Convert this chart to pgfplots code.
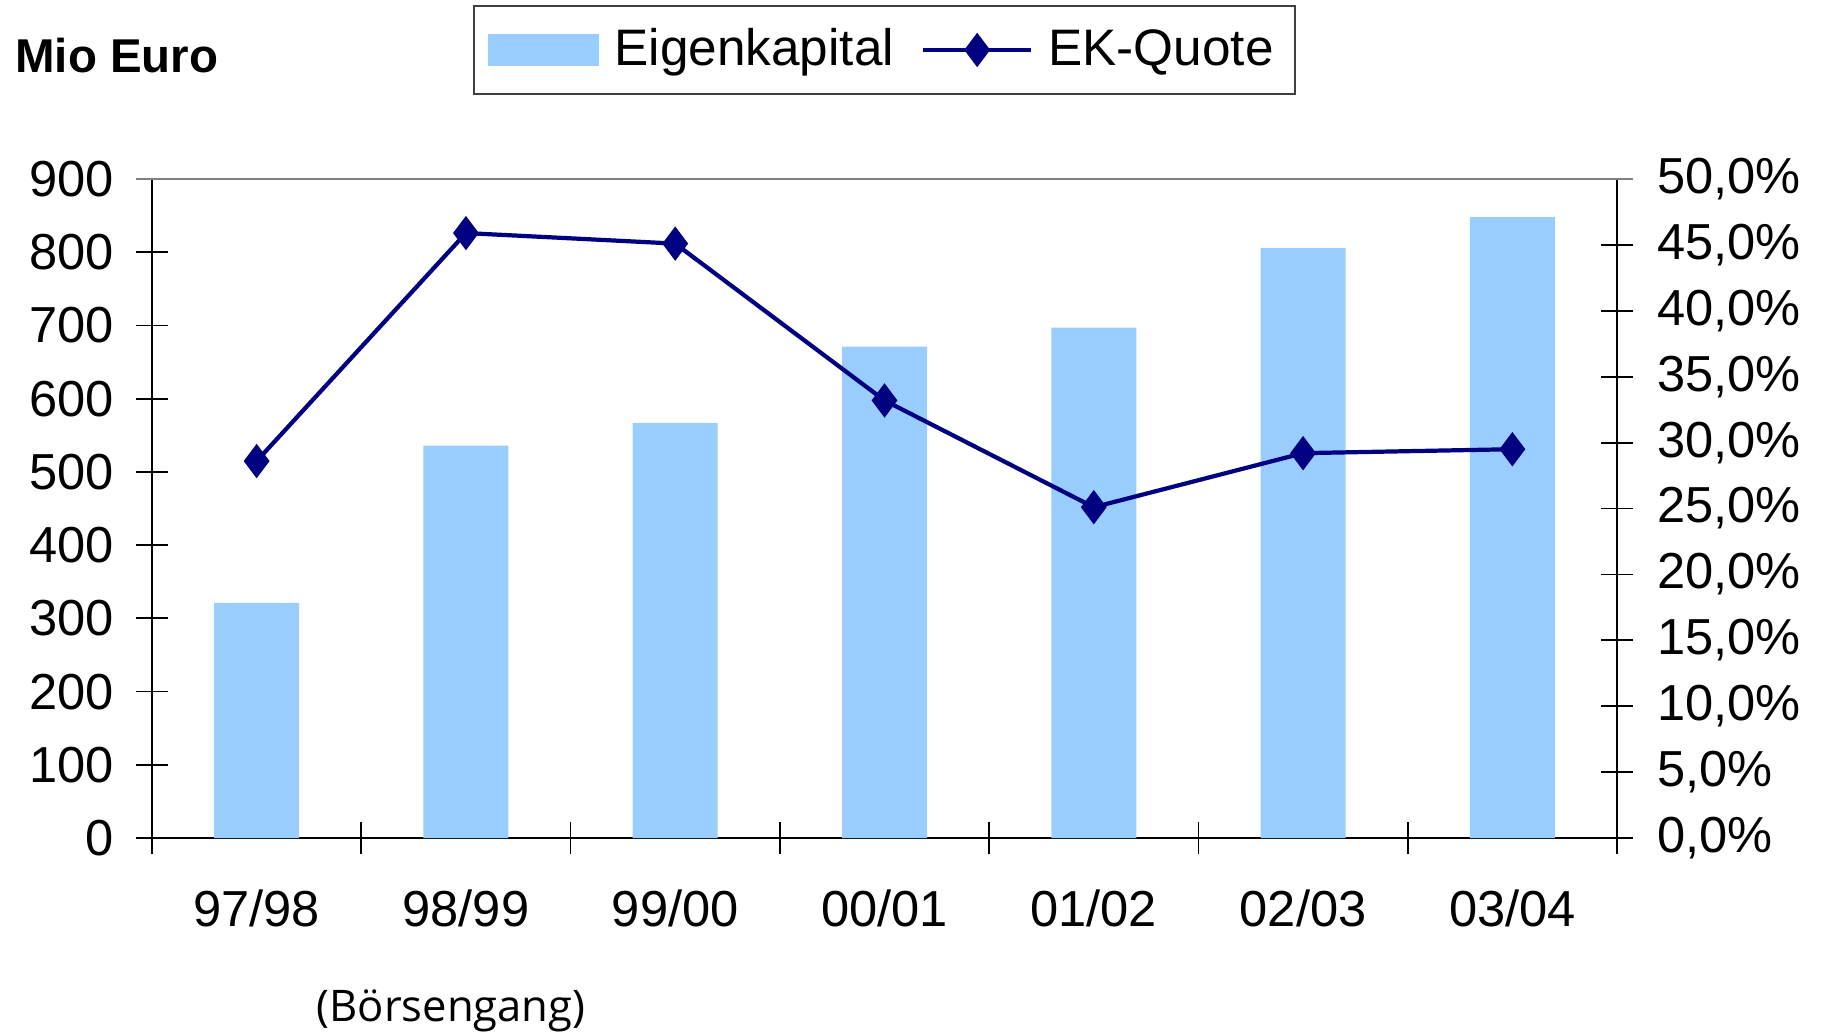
\documentclass[border=0pt]{standalone}
\usepackage{pgfplots}
\pgfplotsset{compat=1.18}
\usepackage{fontspec}
\setmainfont{Liberation Sans}
\newfontfamily\notefont{Open Sans}

\definecolor{barblue}{HTML}{99CCFF}
\definecolor{linenavy}{HTML}{000080}

\pgfplotsset{
  common/.style={
    at={(0,0)}, anchor=south west,
    scale only axis, width=14.65cm, height=6.59cm,
    xmin=-0.5, xmax=6.5,
    /pgf/number format/assume math mode=true,
    tick label style={font=\fontsize{14.4}{17}\selectfont},
    tick align=center, major tick length=0.32cm,
    tick style={black, line width=0.5pt},
  },
  wide line legend/.style={
    legend image code/.code={\draw[mark repeat=2,mark phase=2,##1] plot coordinates {(0cm,0cm) (0.54cm,0cm) (1.08cm,0cm)};}
  },
}

\begin{document}
\begin{tikzpicture}
\path[use as bounding box] (-1.52,-1.94) rectangle (16.70,8.38);

% Eigenkapital (left axis)
\begin{axis}[common,
    ymin=0, ymax=900, ytick={0,100,...,900},
    axis y line*=left, axis x line*=bottom,
    axis line style={black, line width=0.6pt},
    xtick={-0.5,0.5,...,6.5}, xticklabels={{},{},{},{},{},{},{},{}},
    extra x ticks={0,...,6},
    extra x tick labels={97/98,98/99,99/00,00/01,01/02,02/03,03/04},
    extra x tick style={major tick length=0pt},
    xticklabel style={yshift=-0.39cm},
    yticklabel style={xshift=-0.10cm},
  ]
  \addplot[ybar, bar width=0.85cm, fill=barblue, draw=none] coordinates {
    (0,321) (1,536) (2,567) (3,671) (4,697) (5,806) (6,848)
  };
\end{axis}

% EK-Quote (right axis)
\begin{axis}[common,
    ymin=0, ymax=50, ytick={0,5,...,50},
    yticklabels={{0,0\%},{5,0\%},{10,0\%},{15,0\%},{20,0\%},{25,0\%},{30,0\%},{35,0\%},{40,0\%},{45,0\%},{50,0\%}},
    axis y line*=right, axis x line=none,
    axis line style={black, line width=0.6pt},
    yticklabel style={xshift=0.12cm},
    legend style={at={(0.5,1.2646)}, anchor=north, legend columns=2,
      draw=black!75, line width=0.6pt,
      font=\fontsize{14.6}{17}\selectfont,
      inner xsep=0.14cm, inner ysep=0.16cm,
      /tikz/every odd column/.append style={column sep=0.08cm},
      /tikz/every even column/.append style={column sep=0.2cm}},
  ]
  \addlegendimage{legend image code/.code={\fill[barblue] (0cm,-0.15cm) rectangle (1.09cm,0.15cm);}}
  \addlegendentry{Eigenkapital}
  \addplot[linenavy, line width=1.2pt, mark=diamond*, mark size=3.9pt,
    mark options={fill=linenavy, draw=linenavy}, wide line legend]
    coordinates {
    (0,28.6) (1,45.9) (2,45.1) (3,33.2) (4,25.1) (5,29.2) (6,29.5)
  };
  \addlegendentry{EK-Quote}
\end{axis}

% gray top border of the plot area
\draw[black!50, line width=0.8pt] (-0.16,6.59) -- (14.81,6.59);

\node[anchor=west, font=\fontsize{13.5}{16}\selectfont\bfseries] at (-1.49,7.82) {Mio Euro};
\node[font=\notefont\fontsize{12.4}{15}\selectfont] at (2.99,-1.73) {(Börsengang)};
\end{tikzpicture}
\end{document}
